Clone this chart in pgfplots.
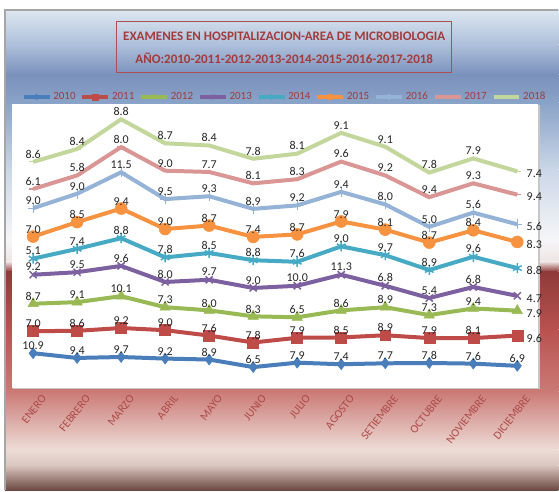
\documentclass[border=0pt]{standalone}
\usepackage{pgfplots}
\pgfplotsset{compat=1.18}
\usepackage{pgfplotstable}
\usepackage{fontspec}
\setmainfont{Carlito}

\definecolor{c2010}{HTML}{4A7EBB}
\definecolor{c2011}{HTML}{BE4B48}
\definecolor{c2012}{HTML}{98B954}
\definecolor{c2013}{HTML}{7D60A0}
\definecolor{c2014}{HTML}{46AAC5}
\definecolor{c2015}{HTML}{F69240}
\definecolor{c2016}{HTML}{95B3D7}
\definecolor{c2017}{HTML}{D99694}
\definecolor{c2018}{HTML}{C3D69B}
\definecolor{titlered}{HTML}{A33B3B}
\definecolor{ticktxt}{HTML}{AE4A48}
\definecolor{g1}{HTML}{DDE7F1}
\definecolor{g2}{HTML}{ADBFDA}
\definecolor{g3}{HTML}{7A91BC}
\definecolor{g4}{HTML}{8AA3C8}
\definecolor{g5}{HTML}{CBD7E8}
\definecolor{g6}{HTML}{F6F6F8}
\definecolor{g7}{HTML}{EFE4E4}
\definecolor{g8}{HTML}{8E3B39}
\definecolor{g9}{HTML}{B9524F}
\definecolor{g10}{HTML}{CB7A76}
\definecolor{g11}{HTML}{EDDCD6}
\definecolor{g12}{HTML}{D9C6BF}
\definecolor{g13}{HTML}{6B4741}

\pgfplotstableread{
idx a b c d e f g h i dx dy
0 10.9 7.0 8.7 9.2 5.1 7.0 9.0 6.1 8.6 0 1
1 9.4 8.6 9.1 9.5 7.4 8.5 9.0 5.8 8.4 0 1
2 9.7 9.2 10.1 9.6 8.8 9.4 11.5 8.0 8.8 0 1
3 9.2 9.0 7.3 8.0 7.8 9.0 9.5 9.0 8.7 0 1
4 8.9 7.6 8.0 9.7 8.5 8.7 9.3 7.7 8.4 0 1
5 6.5 7.8 8.3 9.0 8.8 7.4 8.9 8.1 7.8 0 1
6 7.9 7.9 6.5 10.0 7.6 8.7 9.2 8.3 8.1 0 1
7 7.4 8.5 8.6 11.3 9.0 7.9 9.4 9.6 9.1 0 1
8 7.7 8.9 8.9 6.8 9.7 8.1 8.0 9.2 9.1 0 1
9 7.8 7.9 7.3 5.4 8.9 8.7 5.0 9.4 7.8 0 1
10 7.6 8.1 9.4 6.8 9.6 8.4 5.6 9.3 7.9 0 1
11 6.9 9.6 7.9 4.7 8.8 8.3 5.6 9.4 7.4 17 -9
}\data

\pgfplotsset{
  perpt/.style={
    visualization depends on={\thisrow{dy}\as\mydy},
    visualization depends on={\thisrow{dx}\as\mydx}},
  ser/.style={line width=4pt},
}

\begin{document}
\begin{tikzpicture}
% background
\fill[white] (0pt,0pt) rectangle (559pt,491pt);
\shade[top color=g1, bottom color=g2] (5pt,481pt) rectangle (559pt,446pt);
\shade[top color=g2, bottom color=g3] (5pt,446.2pt) rectangle (559pt,416pt);
\shade[top color=g3, bottom color=g4] (5pt,416.2pt) rectangle (559pt,388pt);
\shade[top color=g4, bottom color=g5] (5pt,388.2pt) rectangle (559pt,321pt);
\shade[top color=g5, bottom color=g6] (5pt,321.2pt) rectangle (559pt,251pt);
\shade[top color=g6, bottom color=g7] (5pt,251.2pt) rectangle (559pt,229pt);
\shade[top color=g7, bottom color=g8] (5pt,229.2pt) rectangle (559pt,219pt);
\shade[top color=g8, bottom color=g9] (5pt,219.2pt) rectangle (559pt,161pt);
\shade[top color=g9, bottom color=g10] (5pt,161.2pt) rectangle (559pt,99pt);
\shade[top color=g10, bottom color=g11] (5pt,99.2pt) rectangle (559pt,41pt);
\shade[top color=g11, bottom color=g12] (5pt,41.2pt) rectangle (559pt,25pt);
\shade[top color=g12, bottom color=g13] (5pt,25.2pt) rectangle (559pt,0pt);
\draw[gray!70, line width=1.2pt] (5pt,0pt) -- (5pt,481pt) -- (559pt,481pt);
% plot area
\fill[gray!45] (13.5pt,101.5pt) rectangle (540.5pt,386pt);
\fill[white] (12pt,103pt) rectangle (539pt,387pt);
% title
\draw[titlered!90, line width=0.8pt] (117pt,419pt) rectangle (452pt,470pt);
\node[text=titlered, font=\bfseries\fontsize{13}{14}\selectfont] at (284.5pt,455pt) {EXAMENES EN HOSPITALIZACION-AREA DE MICROBIOLOGIA};
\node[text=titlered, font=\bfseries\fontsize{13}{14}\selectfont] at (284.5pt,433pt) {AÑO:2010-2011-2012-2013-2014-2015-2016-2017-2018};

\begin{axis}[
  at={(12pt,103pt)}, anchor=south west,
  width=527pt, height=284pt, scale only axis,
  xmin=-0.48, xmax=11.48, ymin=0, ymax=90,
  axis line style={draw=none},
  tick style={draw=none},
  ytick=\empty,
  xtick={0,...,11},
  xticklabels={ENERO,FEBRERO,MARZO,ABRIL,MAYO,JUNIO,JULIO,AGOSTO,SETIEMBRE,OCTUBRE,NOVIEMBRE,DICIEMBRE},
  xticklabel style={font=\fontsize{11.5}{12}\selectfont, text=ticktxt, rotate=52, anchor=east, yshift=-14pt, xshift=3pt},
  stack plots=y,
  point meta=explicit,
  nodes near coords={\pgfmathprintnumber[fixed,fixed zerofill,precision=1,assume math mode=true]{\pgfplotspointmeta}},
  every node near coord/.append style={font=\fontsize{12}{13}\selectfont, text=black!85, anchor=south, xshift=\mydx pt, yshift=\mydy pt, inner sep=2pt},
  legend columns=9,
  legend style={at={(0.518,1.0246)}, anchor=center, draw=none, fill=none,
    font=\fontsize{11}{12}\selectfont, text=titlered,
    /tikz/every even column/.append style={column sep=3pt}},
  legend image code/.code={\draw[mark repeat=2,mark phase=2,line width=3.5pt,mark size=3pt] plot coordinates {(0pt,0pt)(13pt,0pt)(26pt,0pt)};},
  clip=false,
]
\addplot[c2010, ser, mark=diamond*, mark size=5.5pt, mark options={solid,line width=0.5pt},
  visualization depends on={1+0*\thisrow{dy}\as\mydy},
  visualization depends on={0*\thisrow{dx}\as\mydx}] table[x=idx,y=a,meta=a]{\data};
\addlegendentry{2010}
\addplot[c2011, ser, mark=square*, mark size=5.5pt, mark options={solid,line width=0.5pt}, perpt] table[x=idx,y=b,meta=b]{\data};
\addlegendentry{2011}
\addplot[c2012, ser, mark=triangle*, mark size=6pt, mark options={solid,line width=0.5pt}, perpt] table[x=idx,y=c,meta=c]{\data};
\addlegendentry{2012}
\addplot[c2013, ser, mark=x, mark size=5pt, mark options={solid,line width=1.5pt}, perpt] table[x=idx,y=d,meta=d]{\data};
\addlegendentry{2013}
\addplot[c2014, ser, mark=asterisk, mark size=5pt, mark options={solid,line width=1.5pt}, perpt] table[x=idx,y=e,meta=e]{\data};
\addlegendentry{2014}
\addplot[c2015, ser, mark=*, mark size=6pt, mark options={solid,line width=0.5pt}, perpt] table[x=idx,y=f,meta=f]{\data};
\addlegendentry{2015}
\addplot[c2016, ser, mark=+, mark size=5pt, mark options={solid,line width=1.2pt}, perpt] table[x=idx,y=g,meta=g]{\data};
\addlegendentry{2016}
\addplot[c2017, ser, mark=-, mark size=4pt, mark options={solid,line width=1.2pt}, perpt] table[x=idx,y=h,meta=h]{\data};
\addlegendentry{2017}
\addplot[c2018, ser, mark=-, mark size=4pt, mark options={solid,line width=1.2pt}, perpt] table[x=idx,y=i,meta=i]{\data};
\addlegendentry{2018}
\end{axis}
\end{tikzpicture}
\end{document}
